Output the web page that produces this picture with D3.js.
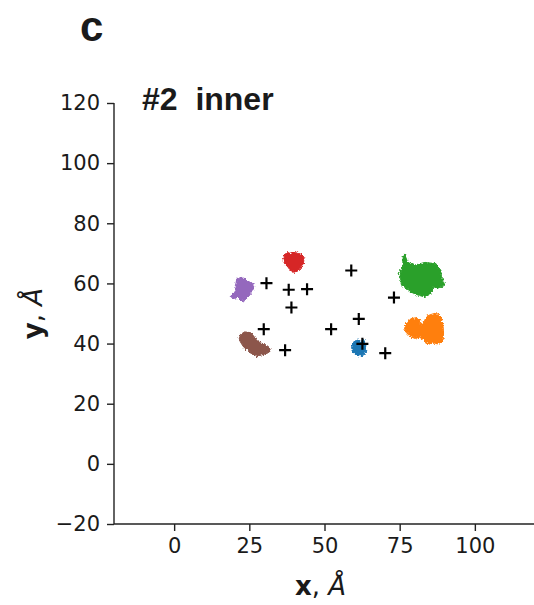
<!DOCTYPE html>
<html>
<head>
<meta charset="utf-8">
<script src="https://cdn.jsdelivr.net/npm/d3@7"></script>
<style>
  body { margin: 0; background: #fff; }
  svg text { fill: #1a1a1a; }
</style>
</head>
<body>
<div id="chart"></div>
<script>
const W = 534, H = 605;
const margin = {top: 103, left: 114};
const plotW = 421, plotH = 421;
const tickFont = "DejaVu Sans";

// axis domains and ticks
const xDomain = [-20, 120];
const yDomain = [-20, 120];
const xTicks = [0, 25, 50, 75, 100];
const yTicks = [-20, 0, 20, 40, 60, 80, 100, 120];

// site positions (black crosses), in Å
const crossX = [30.7, 38.1, 44.2, 39.0, 58.9, 73.1, 61.4, 52.2, 29.8, 36.9, 62.6, 70.2];
const crossY = [60.1, 57.9, 58.1, 52.0, 64.3, 55.3, 48.2, 44.8, 44.8, 37.8, 39.9, 36.8];

// trajectory clouds, outlines [x, y] in Å
const blueCloud = [[59.6,40.5],[60.8,41.2],[62.0,40.8],[63.2,41.0],[63.8,39.8],[63.6,38.4],[63.8,37.0],
  [62.8,36.0],[61.4,35.9],[60.2,36.4],[59.3,37.4],[59.0,38.8]];
const orangeCloud = [[77.2,46.9],[78.9,48.3],[80.5,48.6],[81.9,47.5],[82.2,45.8],[83.0,46.9],[83.9,49.1],
  [85.5,49.7],[87.2,50.2],[88.8,48.8],[89.4,46.3],[89.6,43.6],[89.4,40.8],[87.7,39.9],[86.0,40.2],
  [84.4,39.7],[83.0,41.3],[81.6,42.1],[80.0,41.7],[78.3,42.5],[77.0,43.9],[76.6,45.5]];
const greenCloud = [[76.6,69.8],[77.6,67.2],[80.0,66.1],[83.4,67.0],[86.7,66.6],[88.7,64.4],[88.9,62.2],
  [90.0,59.4],[87.8,58.3],[86.2,58.9],[85.4,56.6],[83.4,55.5],[81.2,56.1],[79.0,57.0],[77.4,58.3],
  [75.6,59.4],[75.4,61.1],[74.8,62.8],[75.4,64.4],[76.2,66.2],[75.8,68.3]];
const redCloud = [[36.5,69.5],[37.8,70.3],[39.0,69.8],[40.2,70.6],[41.3,70.0],[42.5,69.6],[43.2,68.4],
  [43.0,66.8],[42.3,65.3],[41.2,64.2],[40.0,63.6],[38.8,64.3],[37.8,65.5],[36.8,66.5],[36.2,67.8],[36.6,68.6]];
const purpleCloud = [[20.8,61.5],[22.3,62.0],[23.6,61.6],[24.6,60.6],[25.8,60.3],[26.5,59.2],[26.2,57.8],
  [25.6,56.7],[24.6,55.5],[23.3,54.2],[22.0,54.4],[21.2,55.4],[19.8,55.0],[18.8,55.6],[19.5,56.8],
  [20.6,57.4],[20.2,58.7],[20.6,60.2]];
const brownCloud = [[22.0,43.0],[23.5,43.9],[25.5,43.6],[26.6,42.3],[27.5,41.0],[28.8,40.2],[30.5,39.6],
  [31.8,38.6],[32.0,37.5],[31.0,36.8],[29.0,36.2],[27.5,35.6],[26.0,36.4],[24.5,37.6],[23.0,39.0],
  [22.0,40.6],[21.6,41.9]];

const clouds = [blueCloud, orangeCloud, greenCloud, redCloud, purpleCloud, brownCloud];
const cloudColors = ["#1f77b4", "#ff7f0e", "#2ca02c", "#d62728", "#9467bd", "#8c564b"];

var xScale = d3.scaleLinear().domain(xDomain).range([0, plotW]);
var yScale = d3.scaleLinear().domain(yDomain).range([plotH, 0]);

var svg = d3.select("#chart").append("svg")
    .attr("width", W)
    .attr("height", H);

// rough edge for the clouds
var filt = svg.append("defs").append("filter")
    .attr("id", "rough")
    .attr("x", "-20%").attr("y", "-20%")
    .attr("width", "140%").attr("height", "140%");
filt.append("feTurbulence")
    .attr("type", "fractalNoise")
    .attr("baseFrequency", 0.55)
    .attr("numOctaves", 3)
    .attr("seed", 3)
    .attr("result", "noise");
filt.append("feDisplacementMap")
    .attr("in", "SourceGraphic")
    .attr("in2", "noise")
    .attr("scale", 4)
    .attr("xChannelSelector", "R")
    .attr("yChannelSelector", "G");

var g = svg.append("g")
    .attr("transform", "translate(" + margin.left + "," + margin.top + ")");

// panel letter + title
svg.append("text")
    .attr("x", 80).attr("y", 41)
    .attr("font-family", "Liberation Sans")
    .attr("font-weight", "bold")
    .attr("font-size", 42)
    .text("c");

svg.append("text")
    .attr("x", 142).attr("y", 110)
    .attr("font-family", "Liberation Sans")
    .attr("font-weight", "bold")
    .attr("font-size", 32)
    .attr("xml:space", "preserve")
    .text("#2  inner");

// clouds
var line = d3.line()
    .x(function(d) { return xScale(d[0]); })
    .y(function(d) { return yScale(d[1]); })
    .curve(d3.curveLinearClosed);

g.selectAll(".cloud")
    .data(clouds)
    .enter().append("path")
    .attr("class", "cloud")
    .attr("d", line)
    .attr("fill", function(d, i) { return cloudColors[i]; })
    .attr("stroke", function(d, i) { return cloudColors[i]; })
    .attr("stroke-width", 1)
    .attr("stroke-linejoin", "round")
    .attr("filter", "url(#rough)");

// crosses
g.selectAll(".site")
    .data(crossX)
    .enter().append("path")
    .attr("class", "site")
    .attr("transform", function(d, i) { return "translate(" + xScale(d) + "," + yScale(crossY[i]) + ")"; })
    .attr("d", "M-6,0H6M0,-6V6")
    .attr("stroke", "#000")
    .attr("stroke-width", 2.2)
    .attr("fill", "none");

// axes
var yAxis = d3.axisLeft(yScale).tickValues(yTicks).tickSize(7).tickPadding(7)
    .tickFormat(function(d) { return d < 0 ? "\u2212" + Math.abs(d) : d; });
var xAxis = d3.axisBottom(xScale).tickValues(xTicks).tickSize(7).tickPadding(7);

var yG = g.append("g").attr("class", "y axis").call(yAxis);
var xG = g.append("g").attr("class", "x axis")
    .attr("transform", "translate(0," + plotH + ")")
    .call(xAxis);

[yG, xG].forEach(function(a) {
    a.attr("font-family", tickFont).attr("font-size", 21);
    a.select(".domain").attr("stroke", "#222").attr("stroke-width", 1.4)
        .attr("d", a === yG ? "M0,0V" + plotH : "M0,0H" + plotW);
    a.selectAll(".tick line").attr("stroke", "#222").attr("stroke-width", 1.4);
    a.selectAll(".tick text").attr("fill", "#1a1a1a");
});

// axis labels
var xl = svg.append("text")
    .attr("x", margin.left + plotW / 2 - 4)
    .attr("y", 595)
    .attr("text-anchor", "middle")
    .attr("font-family", tickFont)
    .attr("font-size", 26);
xl.append("tspan").attr("font-weight", "bold").text("x");
xl.append("tspan").text(", ");
xl.append("tspan").attr("font-style", "italic").text("Å");

var yl = svg.append("text")
    .attr("transform", "translate(42," + (margin.top + plotH / 2) + ") rotate(-90)")
    .attr("text-anchor", "middle")
    .attr("font-family", tickFont)
    .attr("font-size", 26);
yl.append("tspan").attr("font-weight", "bold").text("y");
yl.append("tspan").text(", ");
yl.append("tspan").attr("font-style", "italic").text("Å");
</script>
</body>
</html>
